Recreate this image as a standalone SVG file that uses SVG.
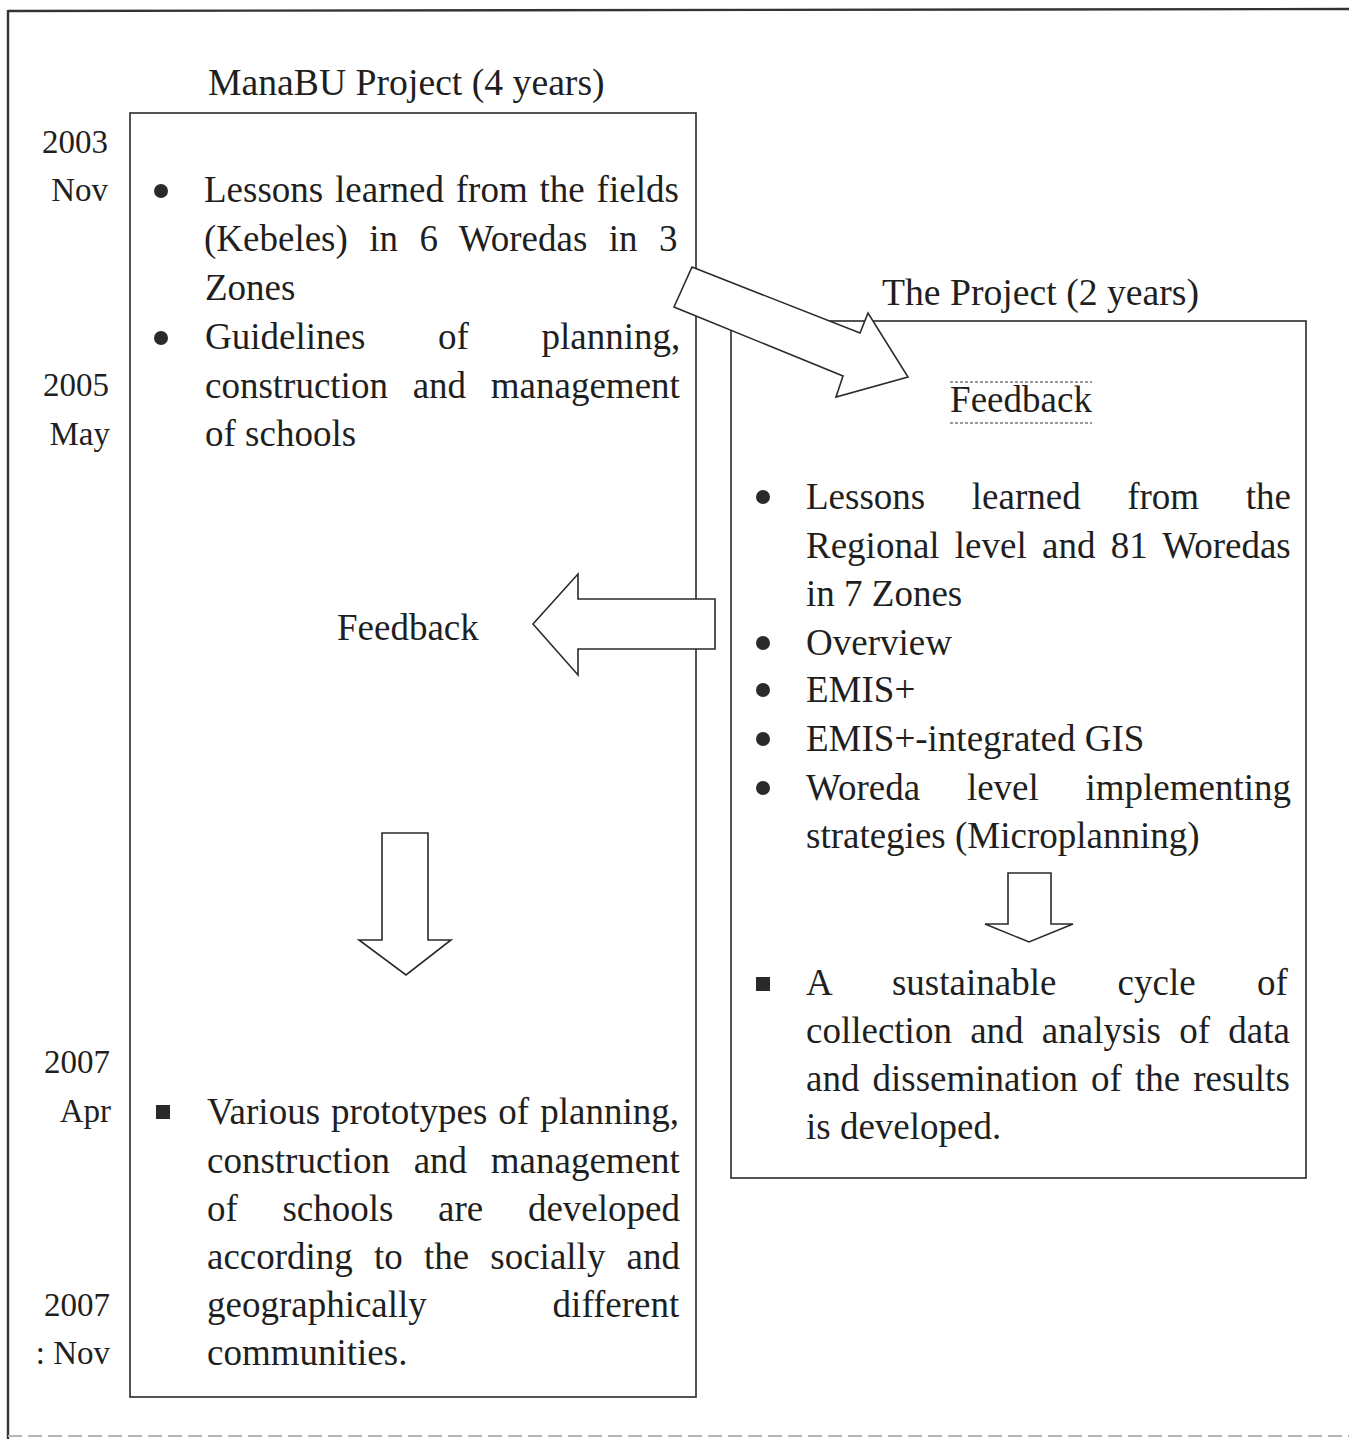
<svg xmlns="http://www.w3.org/2000/svg" width="1349" height="1439" viewBox="0 0 1349 1439">
  <style>
    .txt { font-family: "Liberation Serif", "Times New Roman", serif; font-size: 37px; fill: #1f1f1f; }
    .title { font-size: 37.7px; }
    .date { font-family: "Liberation Serif", "Times New Roman", serif; font-size: 33px; fill: #1f1f1f; text-anchor: end; }
    .box { fill: none; stroke: #2a2a2a; stroke-width: 1.6; }
    .frame { fill: none; stroke: #333; stroke-width: 2.4; }
    .arrow { fill: #ffffff; stroke: #2a2a2a; stroke-width: 1.6; stroke-linejoin: miter; }
    .dot { fill: #2a2a2a; }
    .hatch { stroke: #9a9a9a; stroke-width: 2; stroke-dasharray: 3 2; }
  </style>

  <rect width="1349" height="1439" fill="#ffffff"/>

  <!-- page frame -->
  <g id="frame">
    <line class="frame" x1="8" y1="11" x2="1349" y2="9"/>
    <line class="frame" x1="8" y1="10" x2="8" y2="1439"/>
    <line x1="8" y1="1436" x2="1349" y2="1436" stroke="#b5b5b5" stroke-width="2" stroke-dasharray="14 6"/>
  </g>

  <!-- timeline dates -->
  <g id="dates">
    <text class="date" x="108" y="153">2003</text>
    <text class="date" x="108" y="201">Nov</text>
    <text class="date" x="109" y="396">2005</text>
    <text class="date" x="110" y="445">May</text>
    <text class="date" x="110" y="1073">2007</text>
    <text class="date" x="111" y="1122">Apr</text>
    <text class="date" x="110" y="1316">2007</text>
    <text class="date" x="110" y="1364">: Nov</text>
  </g>

  <!-- ManaBU project box -->
  <g id="box-manabu">
    <text class="txt title" x="208" y="95">ManaBU Project (4 years)</text>
    <rect class="box" x="130" y="113" width="566" height="1284"/>
    <circle class="dot" cx="161" cy="191" r="7"/>
    <text class="txt" x="204" y="202" word-spacing="2.6">Lessons learned from the fields</text>
    <text class="txt" x="204" y="251" word-spacing="12.2">(Kebeles) in 6 Woredas in 3</text>
    <text class="txt" x="205" y="300">Zones</text>
    <circle class="dot" cx="161" cy="338" r="7"/>
    <text class="txt" x="205" y="349" word-spacing="63.4">Guidelines of planning,</text>
    <text class="txt" x="205" y="398" word-spacing="15.5">construction and management</text>
    <text class="txt" x="205" y="446">of schools</text>
    <text class="txt" x="337" y="640">Feedback</text>
    <rect class="dot" x="156" y="1105" width="14" height="14"/>
    <text class="txt" x="207" y="1124" word-spacing="1.8">Various prototypes of planning,</text>
    <text class="txt" x="207" y="1173" word-spacing="14.5">construction and management</text>
    <text class="txt" x="207" y="1221" word-spacing="35.4">of schools are developed</text>
    <text class="txt" x="207" y="1269" word-spacing="11.9">according to the socially and</text>
    <text class="txt" x="207" y="1317" word-spacing="116.5">geographically different</text>
    <text class="txt" x="207" y="1365">communities.</text>
  </g>

  <!-- follow-on project box -->
  <g id="box-project">
    <text class="txt title" x="882" y="305">The Project (2 years)</text>
    <rect class="box" x="731" y="321" width="575" height="857"/>
    <line class="hatch" x1="950" y1="382" x2="1092" y2="382"/>
    <line class="hatch" x1="950" y1="423" x2="1092" y2="423"/>
    <text class="txt" x="1021" y="412" text-anchor="middle">Feedback</text>
    <circle class="dot" cx="763" cy="497" r="7"/>
    <text class="txt" x="806" y="509" word-spacing="37.3">Lessons learned from the</text>
    <text class="txt" x="806" y="558" word-spacing="6">Regional level and 81 Woredas</text>
    <text class="txt" x="806" y="606">in 7 Zones</text>
    <circle class="dot" cx="763" cy="643" r="7"/>
    <text class="txt" x="806" y="655">Overview</text>
    <circle class="dot" cx="763" cy="690" r="7"/>
    <text class="txt" x="806" y="702">EMIS+</text>
    <circle class="dot" cx="763" cy="739" r="7"/>
    <text class="txt" x="806" y="751">EMIS+-integrated GIS</text>
    <circle class="dot" cx="763" cy="788" r="7"/>
    <text class="txt" x="806" y="800" word-spacing="37.5">Woreda level implementing</text>
    <text class="txt" x="806" y="848">strategies (Microplanning)</text>
    <rect class="dot" x="756" y="977" width="14" height="14"/>
    <text class="txt" x="806" y="995" word-spacing="52">A sustainable cycle of</text>
    <text class="txt" x="806" y="1043" word-spacing="9">collection and analysis of data</text>
    <text class="txt" x="806" y="1091" word-spacing="3.8">and dissemination of the results</text>
    <text class="txt" x="806" y="1139">is developed.</text>
  </g>

  <!-- block arrows -->
  <g id="connectors">
    <polygon class="arrow" points="692,267 860,333 868,313 908,377 836,397 843,376 674,307"/>
    <polygon class="arrow" points="715,599 578,599 578,574 533,624 578,675 578,649 715,649"/>
    <polygon class="arrow" points="382,833 428,833 428,940 451,940 406,975 359,940 382,940"/>
    <polygon class="arrow" points="1008,873 1051,873 1051,924 1073,924 1029,942 985,924 1008,924"/>
  </g>
</svg>
